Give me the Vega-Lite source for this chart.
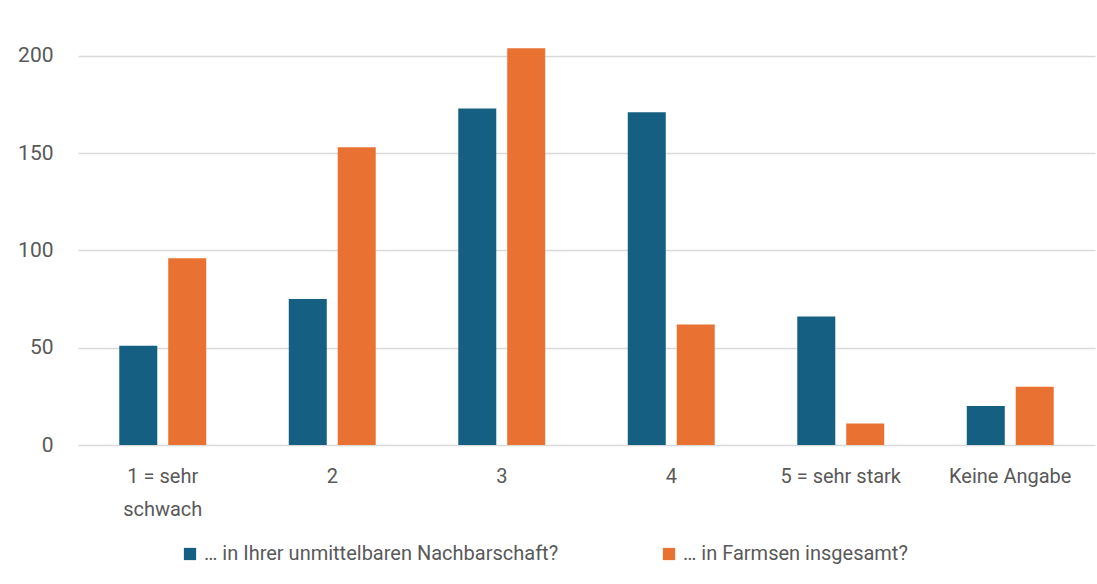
{
  "$schema": "https://vega.github.io/schema/vega-lite/v6.json",
  "autosize": {"type": "none"},
  "padding": {"left": 78, "top": 17, "right": 2, "bottom": 139},
  "width": 1017,
  "height": 428,
  "background": "white",
  "data": {
    "values": [
      {"kategorie": "1 = sehr schwach", "serie": "… in Ihrer unmittelbaren Nachbarschaft?", "anzahl": 51},
      {"kategorie": "1 = sehr schwach", "serie": "… in Farmsen insgesamt?", "anzahl": 96},
      {"kategorie": "2", "serie": "… in Ihrer unmittelbaren Nachbarschaft?", "anzahl": 75},
      {"kategorie": "2", "serie": "… in Farmsen insgesamt?", "anzahl": 153},
      {"kategorie": "3", "serie": "… in Ihrer unmittelbaren Nachbarschaft?", "anzahl": 173},
      {"kategorie": "3", "serie": "… in Farmsen insgesamt?", "anzahl": 204},
      {"kategorie": "4", "serie": "… in Ihrer unmittelbaren Nachbarschaft?", "anzahl": 171},
      {"kategorie": "4", "serie": "… in Farmsen insgesamt?", "anzahl": 62},
      {"kategorie": "5 = sehr stark", "serie": "… in Ihrer unmittelbaren Nachbarschaft?", "anzahl": 66},
      {"kategorie": "5 = sehr stark", "serie": "… in Farmsen insgesamt?", "anzahl": 11},
      {"kategorie": "Keine Angabe", "serie": "… in Ihrer unmittelbaren Nachbarschaft?", "anzahl": 20},
      {"kategorie": "Keine Angabe", "serie": "… in Farmsen insgesamt?", "anzahl": 30}
    ]
  },
  "config": {
    "font": "Roboto",
    "view": {"stroke": null}
  },
  "mark": {"type": "bar"},
  "encoding": {
    "x": {
      "field": "kategorie",
      "type": "nominal",
      "sort": null,
      "scale": {"paddingInner": 0.487, "paddingOuter": 0.2435},
      "axis": {
        "title": null,
        "labelAngle": 0,
        "domain": false,
        "ticks": false,
        "labelFontSize": 20,
        "labelColor": "#595959",
        "labelPadding": 21,
        "labelLineHeight": 33,
        "labelLimit": 300,
        "labelExpr": "datum.label == '1 = sehr schwach' ? ['1 = sehr', 'schwach'] : datum.label"
      }
    },
    "xOffset": {
      "field": "serie",
      "type": "nominal",
      "sort": ["… in Ihrer unmittelbaren Nachbarschaft?", "… in Farmsen insgesamt?"],
      "scale": {"paddingInner": 0.224, "paddingOuter": 0}
    },
    "y": {
      "field": "anzahl",
      "type": "quantitative",
      "scale": {"domain": [0, 220], "nice": false},
      "axis": {
        "title": null,
        "values": [0, 50, 100, 150, 200],
        "domain": false,
        "ticks": false,
        "grid": true,
        "gridColor": "#d9d9d9",
        "gridWidth": 1.3,
        "labelFontSize": 21,
        "labelColor": "#595959",
        "labelPadding": 25
      }
    },
    "color": {
      "field": "serie",
      "type": "nominal",
      "sort": ["… in Ihrer unmittelbaren Nachbarschaft?", "… in Farmsen insgesamt?"],
      "scale": {"range": ["#156082", "#E97132"]},
      "legend": {
        "title": null,
        "orient": "none",
        "legendX": 102,
        "legendY": 527,
        "direction": "horizontal",
        "symbolType": "square",
        "symbolSize": 150,
        "symbolStrokeWidth": 0,
        "labelFontSize": 20,
        "labelColor": "#595959",
        "labelLimit": 600,
        "columnPadding": 100
      }
    }
  }
}
